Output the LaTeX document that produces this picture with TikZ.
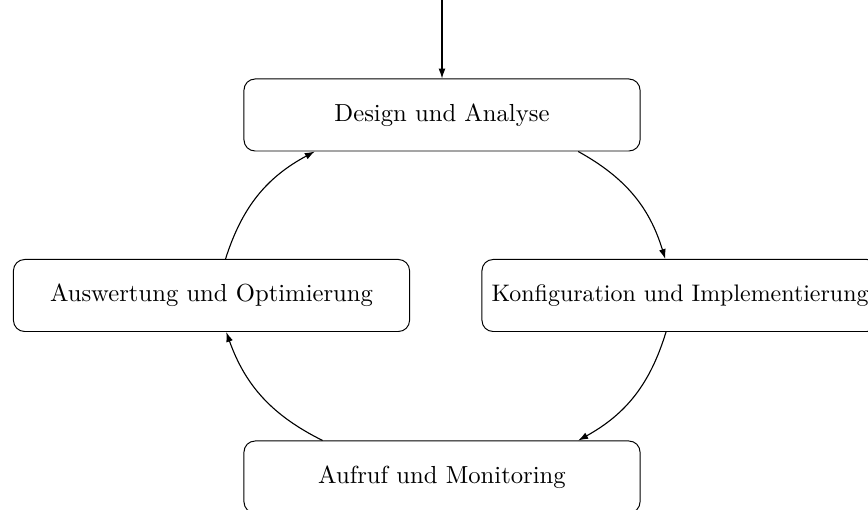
\documentclass[tikz,border=0pt]{standalone}
\usetikzlibrary{arrows.meta}
\begin{document}
\begin{tikzpicture}[x=0.4055pt,y=-0.4055pt,
  stage/.style={draw, rounded corners=4.5pt, minimum width=160.6pt, minimum height=29.2pt, inner sep=2pt, font=\normalsize},
  flow/.style={-{Latex[length=4pt,width=2.8pt]}, line width=0.45pt}]
\useasboundingbox (0,0) rectangle (868,510);
\clip (0,0) rectangle (868,510);
\node[stage] (design) at (442,115) {Design und Analyse};
\node[stage, font=\fontsize{9.7}{12}\selectfont] (konf) at (680,295.5) {Konfiguration und Implementierung};
\node[stage] (aufruf) at (442,477) {Aufruf und Monitoring};
\node[stage] (ausw) at (211.5,295.5) {Auswertung und Optimierung};
\coordinate (start) at (442,0);
\draw[flow] (start) -- (design.north);
\draw[flow] (design.-15.5) to[bend left=22] (konf.112.3);
\draw[flow] (konf.-111) to[bend left=22] (aufruf.15.8);
\draw[flow] (aufruf.163.8) to[bend left=22] (ausw.-68.3);
\draw[flow] (ausw.69.7) to[bend left=22] (design.-164.2);
\end{tikzpicture}
\end{document}
